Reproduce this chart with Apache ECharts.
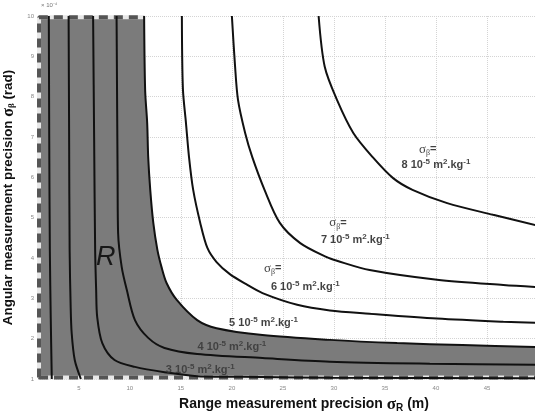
<!DOCTYPE html>
<html>
<head>
<meta charset="utf-8">
<script src="https://cdn.jsdelivr.net/npm/echarts@6/dist/echarts.min.js"></script>
<style>
  html, body { margin: 0; padding: 0; background: #fff; }
  #chart { width: 535px; height: 412px; }
</style>
</head>
<body>
<div id="chart"></div>
<script>
// contour curves, [sigmaR (m), sigmaBeta (1e-4 rad)]
var curve1 = [[2.06,10],[2.1,7],[2.16,4.2],[2.25,2.5],[2.35,1]];
var curve2 = [[4.0,10],[4.05,7],[4.1,4.2],[4.2,2.8],[4.3,2.14],[4.6,1.47],[5.2,1.0]];
var curve3 = [[6.4,10],[6.5,7],[6.6,4.2],[6.7,3.2],[6.8,2.54],[7.3,1.89],[8.5,1.47],[10.5,1.3],[13.4,1.17],[16.6,1.07],[23,1.05],[29.6,1.03],[50,1.02]];
var curve4 = [[8.7,10],[8.8,6],[8.85,4.62],[9.2,3.78],[9.7,3.21],[10.5,2.46],[11.8,2.02],[13.4,1.77],[16.6,1.62],[23,1.52],[29.6,1.43],[39.4,1.38],[50,1.35]];
var curve5 = [[11.4,10],[11.5,8.16],[11.7,7.35],[11.8,6.5],[12.0,5.69],[12.3,4.87],[12.7,4.2],[13.1,3.78],[13.6,3.38],[14.6,2.96],[16.6,2.46],[18.5,2.26],[23,2.09],[29.6,1.97],[36.2,1.89],[42.6,1.84],[50,1.79]];
var curve6 = [[15.1,10],[15.2,8.2],[15.5,7.35],[15.8,6.5],[16.2,5.7],[16.9,4.87],[17.6,4.25],[18.5,3.9],[19.8,3.6],[21.4,3.35],[23,3.13],[26.4,2.84],[29.6,2.7],[33.5,2.62],[40.1,2.5],[46.6,2.42],[50,2.39]];
var curve7 = [[20,10],[20.3,8.8],[20.6,7.92],[21.3,7.1],[22,6.5],[23.2,5.69],[24.7,4.87],[26.7,4.37],[29.3,4.02],[30.3,3.93],[33.5,3.7],[40.1,3.46],[46.6,3.33],[50,3.28]];
var curve8 = [[28.5,10],[29.1,8.74],[30.3,7.92],[31.9,7.1],[33.8,6.5],[35.8,5.98],[37.7,5.69],[41.1,5.36],[45.6,5.07],[50,4.8]];
var curves = [curve1, curve2, curve3, curve4, curve5, curve6, curve7, curve8];

// region R: box corners, the 5e-5 contour is its edge
var xRange = [1, 50];
var yRange = [1, 10];

// annotations
var labelText = [
    '{s|σ}{sub|β}{b|=}', '{b|8 10}{sup|-5}{b| m}{sup|2}{b|.kg}{sup|-1}',
    '{s|σ}{sub|β}{b|=}', '{b|7 10}{sup|-5}{b| m}{sup|2}{b|.kg}{sup|-1}',
    '{s|σ}{sub|β}{b|=}', '{b|6 10}{sup|-5}{b| m}{sup|2}{b|.kg}{sup|-1}',
    '{b|5 10}{sup|-5}{b| m}{sup|2}{b|.kg}{sup|-1}',
    '{g|4 10}{gs|-5}{g| m}{gs|2}{g|.kg}{gs|-1}',
    '{g|3 10}{gs|-5}{g| m}{gs|2}{g|.kg}{gs|-1}',
    '{r|R}'
];
var labelAt = [[39.2,6.7],[40.0,6.3],[30.4,4.87],[32.1,4.45],[24.0,3.75],[27.2,3.28],[23.1,2.39],[20.0,1.79],[16.9,1.22],[7.65,4.02]];

var dom = document.getElementById('chart');
var myChart = echarts.init(dom, null, {renderer: 'canvas'});

var smoothness = 0.3;
var regionEdge = [[xRange[0], yRange[1]]].concat(curve5);

var series = [];
series.push({
    type: 'line',
    data: regionEdge,
    symbol: 'none',
    smooth: smoothness,
    lineStyle: {width: 0},
    areaStyle: {color: '#7b7b7b', opacity: 1, origin: 'start'},
    z: 1
});
// dashed frame of region R
var frame = [
    [[xRange[0] + 0.1, 1.04], [xRange[0] + 0.1, yRange[1] - 0.03], [curve5[0][0], yRange[1] - 0.03]],
    [[xRange[0] + 0.1, 1.04], [xRange[1], 1.04]]
];
frame.forEach(function (f) {
    series.push({type: 'line', data: f, symbol: 'none', clip: false, lineStyle: {color: '#e8e8e8', width: 4}, z: 2});
    series.push({type: 'line', data: f, symbol: 'none', clip: false, lineStyle: {color: '#555', width: 4, type: [9, 6]}, z: 3});
});
curves.forEach(function (c) {
    series.push({
        type: 'line',
        data: c,
        symbol: 'none',
        smooth: smoothness,
        lineStyle: {color: '#111', width: 2},
        z: 4
    });
});
series.push({
    type: 'scatter',
    symbolSize: 1,
    itemStyle: {color: 'rgba(0,0,0,0)'},
    z: 5,
    data: labelAt.map(function (p, i) {
        return {value: p, label: {formatter: labelText[i]}};
    }),
    label: {
        show: true,
        position: 'inside',
        rich: {
            b: {fontFamily: 'Liberation Sans', fontWeight: 'bold', fontSize: 11, lineHeight: 15, color: '#111'},
            sup: {fontFamily: 'Liberation Sans', fontWeight: 'bold', fontSize: 8, lineHeight: 9, verticalAlign: 'top', color: '#111'},
            g: {fontFamily: 'Liberation Sans', fontWeight: 'bold', fontSize: 11, lineHeight: 15, color: '#333'},
            gs: {fontFamily: 'Liberation Sans', fontWeight: 'bold', fontSize: 8, lineHeight: 9, verticalAlign: 'top', color: '#333'},
            s: {fontFamily: 'Liberation Serif', fontSize: 13, lineHeight: 14, color: '#111'},
            sub: {fontFamily: 'Liberation Serif', fontSize: 8, lineHeight: 8, verticalAlign: 'bottom', color: '#111'},
            r: {fontFamily: 'Liberation Sans', fontStyle: 'italic', fontSize: 27, color: '#000'}
        }
    }
});

var option = {
    backgroundColor: '#fff',
    animation: false,
    grid: {left: 38, right: -3, top: 16, bottom: 33, outerBoundsMode: 'none'},
    graphic: [{
        type: 'text', left: 41, top: 2,
        style: {text: '× 10⁻⁴', fontSize: 6, fill: '#777', fontFamily: 'Liberation Sans'}
    }],
    xAxis: {
        type: 'value',
        min: xRange[0],
        max: xRange[1],
        splitNumber: 10,
        name: 'Range measurement precision {s|σ}{sub|R} (m)',
        nameLocation: 'middle',
        nameGap: 14,
        nameTextStyle: {
            fontFamily: 'Liberation Sans', fontWeight: 'bold', fontSize: 14, color: '#111',
            padding: [0, 0, 0, 32],
            rich: {
                s: {fontFamily: 'Liberation Serif', fontSize: 17, color: '#111'},
                sub: {fontFamily: 'Liberation Sans', fontSize: 10, verticalAlign: 'bottom', lineHeight: 11, color: '#111'}
            }
        },
        axisLine: {show: false},
        axisTick: {show: false},
        axisLabel: {showMinLabel: false, fontSize: 6, color: '#888', margin: 6, fontFamily: 'Liberation Sans'},
        splitLine: {show: true, lineStyle: {color: '#d4d4d4', type: 'dotted', width: 1}}
    },
    yAxis: {
        type: 'value',
        min: yRange[0],
        max: yRange[1],
        interval: 1,
        name: 'Angular measurement precision {s|σ}{sub|β} (rad)',
        nameLocation: 'middle',
        nameGap: 18,
        nameTextStyle: {
            fontFamily: 'Liberation Sans', fontWeight: 'bold', fontSize: 13.4, color: '#111',
            rich: {
                s: {fontFamily: 'Liberation Serif', fontSize: 16, color: '#111'},
                sub: {fontFamily: 'Liberation Serif', fontSize: 9, verticalAlign: 'bottom', lineHeight: 10, color: '#111'}
            }
        },
        axisLine: {show: false},
        axisTick: {show: false},
        axisLabel: {fontSize: 6, color: '#888', margin: 4, fontFamily: 'Liberation Sans'},
        splitLine: {show: true, lineStyle: {color: '#d4d4d4', type: 'dotted', width: 1}}
    },
    series: series
};

myChart.setOption(option);
window.onresize = function () {
    myChart.resize();
};
</script>
</body>
</html>
